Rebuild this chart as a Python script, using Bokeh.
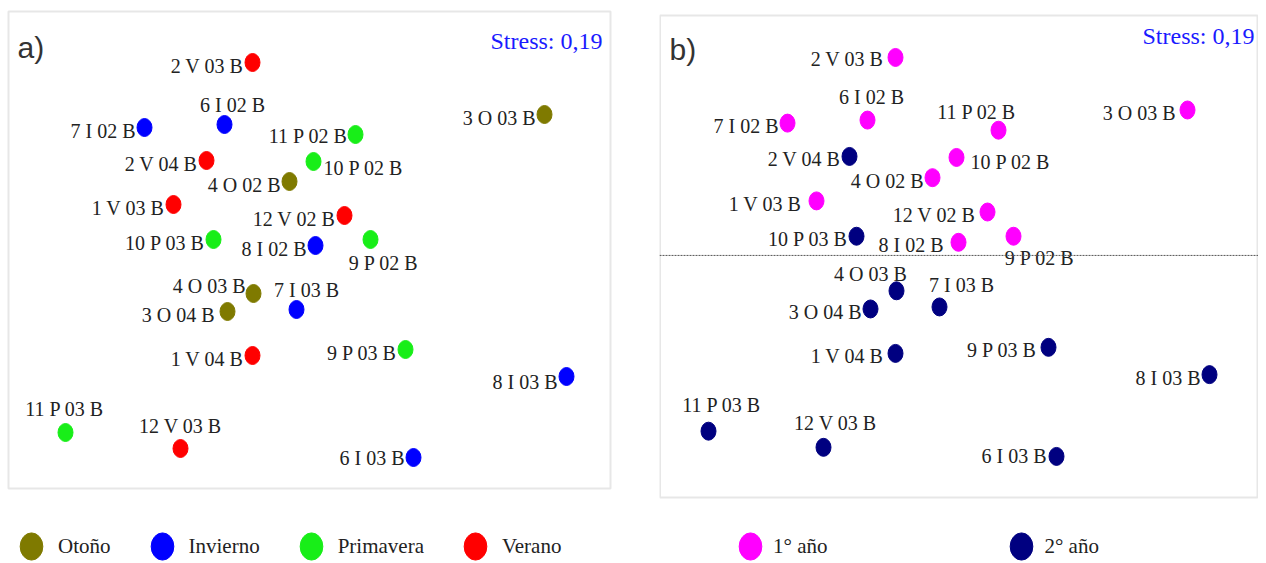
from bokeh.plotting import figure
from bokeh.models import ColumnDataSource, Range1d, Label, Span, Legend, LegendItem, BoxAnnotation
from bokeh.layouts import row
from bokeh.embed import file_html
from bokeh.resources import INLINE
from bokeh.core.properties import value

# ---------------- data (MDS configuration) ----------------
sample = ["2 V 03 B", "6 I 02 B", "7 I 02 B", "11 P 02 B", "2 V 04 B", "10 P 02 B",
          "4 O 02 B", "1 V 03 B", "12 V 02 B", "10 P 03 B", "9 P 02 B", "8 I 02 B",
          "4 O 03 B", "7 I 03 B", "3 O 04 B", "1 V 04 B", "9 P 03 B", "8 I 03 B",
          "11 P 03 B", "12 V 03 B", "6 I 03 B", "3 O 03 B"]
dim1 = [244, 216, 136, 347, 198, 305, 281, 165, 336, 205, 362, 307,
        245, 288, 219, 244, 397, 558, 57, 172, 405, 536]
dim2 = [51, 113, 116, 123, 149, 150, 170, 193, 204, 228, 228, 234,
        282, 298, 300, 344, 338, 365, 421, 437, 446, 103]
season = ["Verano", "Invierno", "Invierno", "Primavera", "Verano", "Primavera",
          "Otoño", "Verano", "Verano", "Primavera", "Primavera", "Invierno",
          "Otoño", "Invierno", "Otoño", "Verano", "Primavera", "Invierno",
          "Primavera", "Verano", "Invierno", "Otoño"]
year = ["1° año", "1° año", "1° año", "1° año", "2° año", "1° año",
        "1° año", "1° año", "1° año", "2° año", "1° año", "1° año",
        "2° año", "2° año", "2° año", "2° año", "2° año", "2° año",
        "2° año", "2° año", "2° año", "1° año"]

season_names = ["Otoño", "Invierno", "Primavera", "Verano"]
season_colors = ["#7f7a00", "#0000ff", "#18ee18", "#ff0000"]
year_names = ["1° año", "2° año"]
year_colors = ["#ff00ff", "#000080"]
stress_text = "Stress: 0,19"
year_split = 247  # dim2 value of the dotted separator in panel b

# ---------------- label placement (style, per panel) ----------------
L = (-9, 3, "right")
pos_a = {s: L for s in sample}
pos_a.update({
    "6 I 02 B": (8, -20, "center"),
    "11 P 02 B": (-8, 1, "right"),
    "10 P 02 B": (10, 6, "left"),
    "9 P 02 B": (13, 23, "center"),
    "4 O 03 B": (-8, -8, "right"),
    "7 I 03 B": (10, -20, "center"),
    "3 O 04 B": (-13, 3, "right"),
    "11 P 03 B": (-1, -24, "center"),
    "12 V 03 B": (0, -23, "center"),
    "8 I 03 B": (-9, 5, "right"),
    "6 I 03 B": (-9, 0, "right"),
})
pos_b = {s: L for s in sample}
pos_b.update({
    "2 V 03 B": (-12, 2, "right"),
    "6 I 02 B": (4, -23, "center"),
    "11 P 02 B": (-22, -18, "center"),
    "10 P 02 B": (14, 5, "left"),
    "1 V 03 B": (-15, 3, "right"),
    "12 V 02 B": (-12, 3, "right"),
    "8 I 02 B": (-15, 3, "right"),
    "9 P 02 B": (26, 22, "center"),
    "4 O 03 B": (-26, -17, "center"),
    "7 I 03 B": (22, -22, "center"),
    "1 V 04 B": (-12, 3, "right"),
    "9 P 03 B": (-12, 3, "right"),
    "11 P 03 B": (13, -26, "center"),
    "12 V 03 B": (12, -24, "center"),
    "6 I 03 B": (-10, 0, "right"),
    "3 O 03 B": (-12, 3, "right"),
})

SERIF = "Liberation Serif"
H = 563


def make_panel(tag, tag_xy, stress_xy, groups, names, colors, pos, xr, yr, box,
               width, border_right, legend_loc, legend_spacing, legend_standoff):
    p = figure(width=width, height=H, x_range=Range1d(*xr), y_range=Range1d(*yr),
               x_axis_type=None, y_axis_type=None, output_backend="svg",
               toolbar_location=None, min_border_left=0, min_border_right=border_right,
               min_border_top=0, min_border_bottom=0)
    p.grid.visible = False
    p.outline_line_color = None
    p.background_fill_color = "white"
    p.border_fill_color = "white"

    p.add_layout(BoxAnnotation(left=box[0], right=box[1], top=box[2], bottom=box[3],
                               fill_alpha=0, line_color="#b0b0b0", line_width=2,
                               level="underlay"))

    items = []
    for name, col in zip(names, colors):
        idx = [i for i, g in enumerate(groups) if g == name]
        src = ColumnDataSource(dict(x=[dim1[i] for i in idx], y=[dim2[i] for i in idx]))
        r = p.ellipse(x="x", y="y", width=15, height=18, width_units="screen",
                      height_units="screen", fill_color=col, line_color=col, source=src)
        items.append(LegendItem(label=name, renderers=[r]))

    lsrc = ColumnDataSource(dict(
        x=dim1, y=dim2, text=sample,
        dx=[pos[s][0] for s in sample], dy=[pos[s][1] for s in sample],
        align=[pos[s][2] for s in sample]))
    p.text(x="x", y="y", text="text", x_offset="dx", y_offset="dy",
           text_align="align", text_baseline="middle", text_font=value(SERIF),
           text_font_size="20px", text_color="#222222", source=lsrc)

    p.add_layout(Label(x=tag_xy[0], y=tag_xy[1], text=tag, text_font="Liberation Sans",
                       text_font_size="30px", text_color="#333333",
                       text_baseline="middle", text_align="left"))
    p.add_layout(Label(x=stress_xy[0], y=stress_xy[1], text=stress_text, text_font=SERIF,
                       text_font_size="24px", text_color="#1a1aff",
                       text_baseline="middle", text_align="right"))

    leg = Legend(items=items, orientation="horizontal", location=legend_loc,
                 glyph_width=34, glyph_height=34, label_standoff=legend_standoff,
                 spacing=legend_spacing, padding=0, margin=0, border_line_color=None,
                 background_fill_alpha=0, label_text_font=SERIF,
                 label_text_font_size="21px", label_text_color="#222222")
    p.add_layout(leg, "center")
    return p


pa = make_panel("a)", (9, 36), (594, 29), season, season_names, season_colors, pos_a,
                (-8, 611), (552, -11), (0, 602, 0, 477), 659, 40, (14, 0), 34, 10)
pb = make_panel("b)", (18, 43), (603, 30), year, year_names, year_colors, pos_b,
                (8, 607), (552.0, -5.4), (8.5, 606, 9.4, 486.6), 599, 0, (74, 0), 177, 6)
pb.add_layout(Span(location=year_split, dimension="width", line_color="#555555",
                   line_width=1, line_dash="2 1"))

layout = row(pa, pb)
open("out.html", "w").write(file_html(layout, INLINE))
